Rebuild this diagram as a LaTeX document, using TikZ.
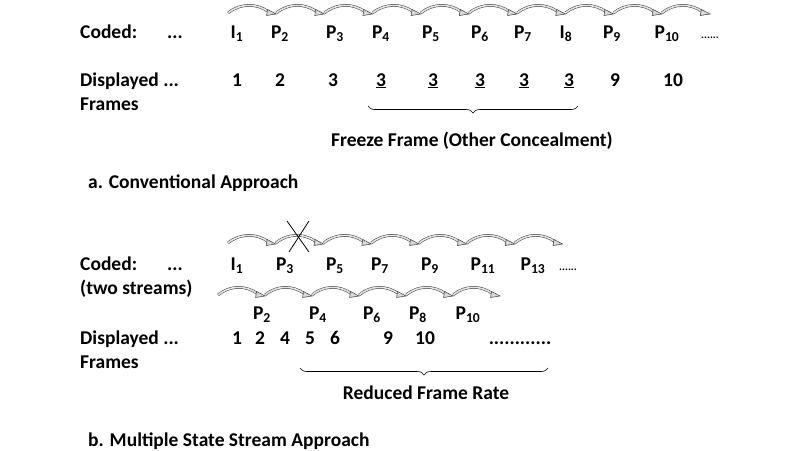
\documentclass[tikz,border=0pt]{standalone}
\usepackage{fontspec}
\setmainfont{Carlito}
\usetikzlibrary{arrows.meta,decorations.pathreplacing}
\newcommand\subx[1]{\textsubscript{#1}}
\begin{document}
\begin{tikzpicture}[x=1pt,y=-1pt,
  txt/.style={font=\bfseries\fontsize{19.5}{22}\selectfont,inner sep=0pt,anchor=base},
  lt/.style={txt,anchor=base west},
  arc/.style={draw=gray!45!black,double=gray!20,double distance=1.6pt,line width=0.5pt},
  tip/.style={fill=gray!30,draw=gray!45!black,line width=0.5pt},
  brc/.style={decorate,decoration={brace,amplitude=7pt,mirror},draw=black,line width=0.6pt}]
\useasboundingbox[fill=white] (0,0) rectangle (800,450);
\newcommand\arcrow[4]{% start x, width, count, baseline y
  \foreach \i in {1,...,#3}{
    \pgfmathsetmacro\xa{#1+(\i-1)*#2}
    \draw[arc] (\xa,#4) .. controls (\xa+0.25*#2,#4-10) and (\xa+0.6*#2,#4-10) .. (\xa+0.85*#2,#4-1);
    \fill[tip] (\xa+0.82*#2,#4-3.5) -- (\xa+#2,#4+1) -- (\xa+0.8*#2,#4+2.5) -- cycle;
  }}
% ---------- a ----------
\arcrow{228}{48.2}{10}{13}
\node[lt] (ca) at (80,38) {Coded:};
\node[txt] (da) at (175,38) {...};
\foreach \n/\t/\x in {a1/I\subx{1}/237,a2/P\subx{2}/280,a3/P\subx{3}/335,a4/P\subx{4}/381,a5/P\subx{5}/431,a6/P\subx{6}/480,a7/P\subx{7}/523,a8/I\subx{8}/566,a9/P\subx{9}/612,a10/P\subx{10}/667}
  \node[txt] (\n) at (\x,38) {\t};
\node[txt] (dotsa) at (710,38) {\fontsize{11}{12}\selectfont......};
\node[lt] (dispa) at (80,86) {Displayed ...};
\node[lt] (fra) at (80,110) {Frames};
\foreach \n/\t/\x in {f1/1/237,f2/2/280,f3/3/333,f9/9/615,f10/10/673}
  \node[txt] (\n) at (\x,86) {\t};
\foreach \n/\x in {u1/381,u2/433,u3/480,u4/524,u5/569}
  \node[txt] (\n) at (\x,86) {\underline{3}};
\draw[brc] (368,106) -- (578,106);
\node[txt] (ffa) at (472,146) {Freeze Frame (Other Concealment)};
\node[lt] (capa) at (88,188) {a. Conventional Approach};
% ---------- b ----------
\arcrow{228}{47.8}{7}{243}
\arcrow{218}{47}{6}{295}
\draw[line width=0.8pt] (287,221) -- (309,252);
\draw[line width=0.8pt] (309,221) -- (289,252);
\node[lt] (cb) at (80,270) {Coded:};
\node[txt] (db) at (175,270) {...};
\node[lt] (ts) at (80,294) {(two streams)};
\foreach \n/\t/\x in {b1/I\subx{1}/237,b3/P\subx{3}/285,b5/P\subx{5}/335,b7/P\subx{7}/380,b9/P\subx{9}/430,b11/P\subx{11}/483,b13/P\subx{13}/533}
  \node[txt] (\n) at (\x,270) {\t};
\node[txt] (dotsb) at (568,270) {\fontsize{11}{12}\selectfont......};
\foreach \n/\t/\x in {b2/P\subx{2}/262,b4/P\subx{4}/318,b6/P\subx{6}/372,b8/P\subx{8}/418,b10/P\subx{10}/468}
  \node[txt] (\n) at (\x,319) {\t};
\node[lt] (dispb) at (80,344) {Displayed ...};
\node[lt] (frb) at (80,368) {Frames};
\foreach \n/\t/\x in {g1/1/237,g2/2/260,g4/4/285,g5/5/310,g6/6/335,g9/9/388,g10/10/425}
  \node[txt] (\n) at (\x,344) {\t};
\node[txt] (dotsc) at (520,344) {............};
\draw[brc] (300,368) -- (548,368);
\node[txt] (rfr) at (426,399) {Reduced Frame Rate};
\node[lt] (capb) at (88,446) {b. Multiple State Stream Approach};
\end{tikzpicture}
\end{document}
